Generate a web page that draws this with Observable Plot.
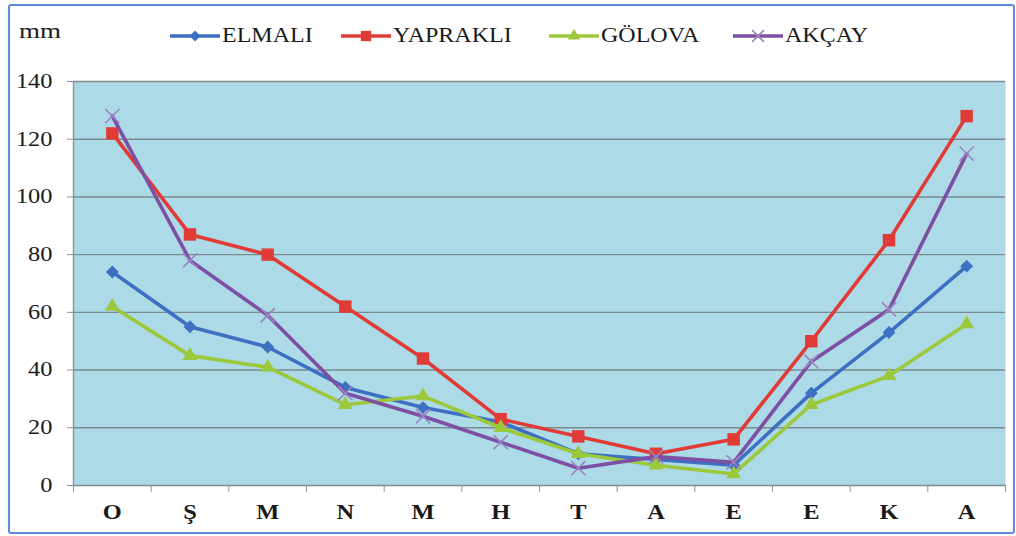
<!DOCTYPE html>
<html>
<head>
<meta charset="utf-8">
<script src="https://cdn.jsdelivr.net/npm/d3@7"></script>
<script src="https://cdn.jsdelivr.net/npm/@observablehq/plot@0.6"></script>
<style>
  html, body { margin: 0; padding: 0; background: #fff; }
  #wrap { position: relative; width: 1016px; height: 536px; overflow: hidden; font-family: "Liberation Serif", "Times New Roman", serif; }
  #border { position: absolute; left: 8px; top: 4px; width: 1003px; height: 526px; border: 2px solid #5b8bd9; border-radius: 3px; pointer-events: none; }
  #legend { position: relative; height: 70px; }
  .lg { position: absolute; top: 24px; display: flex; align-items: center; font-size: 20px; color: #1a1a1a; transform-origin: left center; }
  .lg span { display: inline-block; transform: scaleX(1.2); transform-origin: left center; }
  #mm { position: absolute; left: 19px; top: 20px; font-size: 20px; color: #1a1a1a; transform: scaleX(1.35); transform-origin: left center; }
</style>
</head>
<body>
<div id="wrap">
  <div id="legend"><div id="mm">mm</div></div>
  <div id="chart"></div>
  <div id="border"></div>
</div>
<script>
const categories = ["O", "Ş", "M", "N", "M", "H", "T", "A", "E", "E", "K", "A"];
const seriesNames = ["ELMALI", "YAPRAKLI", "GÖLOVA", "AKÇAY"];
const elmali   = [74, 55, 48, 34, 27, 22, 11, 9, 7, 32, 53, 76];
const yaprakli = [122, 87, 80, 62, 44, 23, 17, 11, 16, 50, 85, 128];
const golova   = [62, 45, 41, 28, 31, 20, 11, 7, 4, 28, 38, 56];
const akcay    = [128, 78, 59, 32, 24, 15, 6, 10, 8, 43, 61, 115];
const yTicks = [0, 20, 40, 60, 80, 100, 120, 140];

const seriesValues = [elmali, yaprakli, golova, akcay];
const colors = ["#3d6fc2", "#e03b36", "#9cc83c", "#7d50a6"];
const symbols = ["diamond2", "square", "triangle", "times"];
const radii = [5.8, 7, 5.5, 6.5];
const legendX = [170, 341, 549, 733];

const idx = categories.map((_, i) => i);
const bounds = d3.range(-0.5, categories.length, 1);

const marks = [
  Plot.frame({fill: "#acdae6", stroke: null}),
  Plot.ruleY(yTicks, {stroke: "#7d8a8f", strokeWidth: 1.4}),
  Plot.ruleX([-0.5], {stroke: "#8a9599", strokeWidth: 1.4}),
  Plot.axisY({ticks: yTicks, tickSize: 6, tickPadding: 15, fontSize: 20, fill: "#1a1a1a", stroke: "#8a9599", label: null}),
  Plot.axisX({ticks: bounds, tickFormat: () => "", tickSize: 7, stroke: "#8a9599", label: null}),
  Plot.axisX({ticks: idx, tickFormat: i => categories[i], tickSize: 0, tickPadding: 19, fontSize: 20, fontWeight: "bold", fill: "#1a1a1a", label: null})
];

seriesValues.forEach((vals, s) => {
  const rows = vals.map((v, i) => ({i, v}));
  marks.push(Plot.line(rows, {x: "i", y: "v", stroke: colors[s], strokeWidth: 3.6, strokeLinejoin: "round"}));
  if (symbols[s] === "times") {
    marks.push(Plot.dot(rows, {x: "i", y: "v", symbol: symbols[s], r: radii[s], stroke: "#9a86c0", strokeWidth: 1.6}));
  } else {
    marks.push(Plot.dot(rows, {x: "i", y: "v", symbol: symbols[s], r: radii[s], fill: colors[s], stroke: null}));
  }
});

const plot = Plot.plot({
  width: 1016,
  height: 466,
  marginLeft: 73,
  marginRight: 11,
  marginTop: 11,
  marginBottom: 51,
  style: {fontFamily: "Liberation Serif, Times New Roman, serif", background: "transparent", overflow: "visible"},
  x: {type: "linear", domain: [-0.5, categories.length - 0.5]},
  y: {domain: [0, 140]},
  marks
});

plot.querySelectorAll('g[aria-label$="tick label"] text').forEach(t => {
  const tr = t.getAttribute("transform") || "";
  t.setAttribute("transform", tr + " scale(1.22,1)");
});

document.getElementById("chart").appendChild(plot);

// legend
const legend = document.getElementById("legend");
seriesNames.forEach((name, s) => {
  const item = document.createElement("div");
  item.className = "lg";
  item.style.left = legendX[s] + "px";
  const sw = d3.create("svg").attr("width", 52).attr("height", 22);
  sw.append("line").attr("x1", 0).attr("x2", 50).attr("y1", 11).attr("y2", 11)
    .attr("stroke", colors[s]).attr("stroke-width", 3.6);
  const sym = {diamond2: d3.symbolDiamond2, square: d3.symbolSquare, triangle: d3.symbolTriangle, times: d3.symbolTimes}[symbols[s]];
  const p = sw.append("path").attr("transform", "translate(25,11)")
    .attr("d", d3.symbol(sym, Math.PI * radii[s] * radii[s] * 0.7)());
  if (symbols[s] === "times") p.attr("fill", "none").attr("stroke", "#9a86c0").attr("stroke-width", 1.6);
  else p.attr("fill", colors[s]);
  item.appendChild(sw.node());
  const label = document.createElement("span");
  label.textContent = name;
  item.appendChild(label);
  legend.appendChild(item);
});
</script>
</body>
</html>
